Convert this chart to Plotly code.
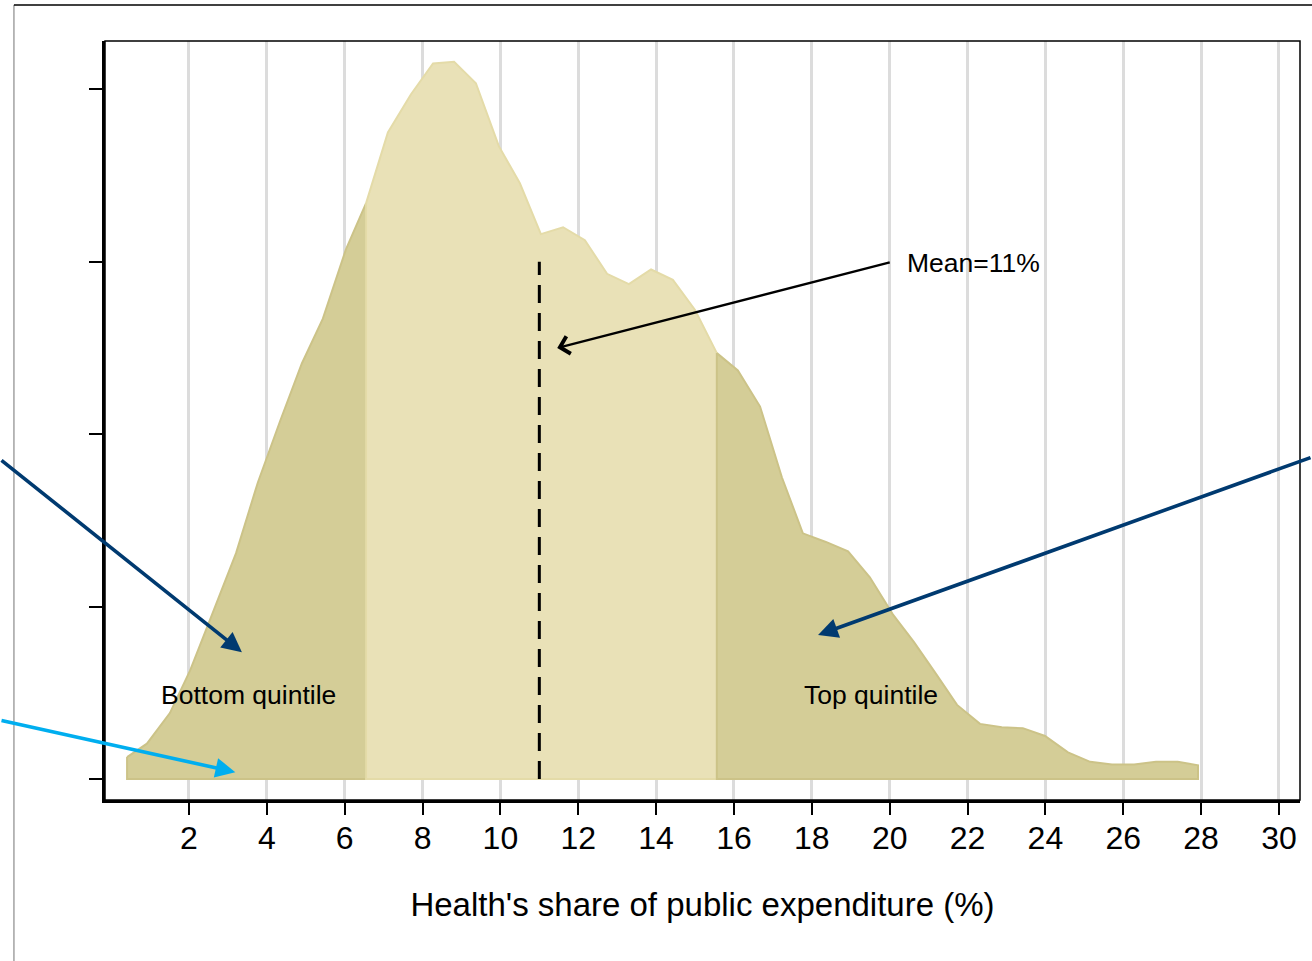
import plotly.graph_objects as go

# Density of health's share of public expenditure (%)
x_vals = [0.41, 0.92, 1.51, 2.03, 2.62, 3.21, 3.77, 4.34, 4.90, 5.44,
          6.03, 6.55, 7.11, 7.70, 8.27, 8.81, 9.37, 9.96, 10.50, 11.04,
          11.61, 12.17, 12.74, 13.30, 13.87, 14.43, 15.00, 15.56, 16.10, 16.67,
          17.23, 17.77, 18.36, 18.93, 19.49, 20.08, 20.62, 21.19, 21.73, 22.32,
          22.88, 23.42, 23.99, 24.58, 25.15, 25.71, 26.28, 26.84, 27.40, 27.92]
density = [0.00255, 0.0041, 0.00765, 0.0126, 0.0194, 0.0262, 0.0344, 0.0415, 0.0482, 0.0534,
           0.0614, 0.0668, 0.0750, 0.0794, 0.0830, 0.0832, 0.0807, 0.0734, 0.0691, 0.0632,
           0.0640, 0.0625, 0.0586, 0.0574, 0.0591, 0.0579, 0.0544, 0.0494, 0.0474, 0.0432,
           0.0350, 0.0285, 0.0275, 0.0264, 0.0234, 0.0191, 0.0159, 0.0122, 0.0086, 0.0064,
           0.0060, 0.0059, 0.0050, 0.0031, 0.0020, 0.0017, 0.0017, 0.0020, 0.0020, 0.0016]
bottom_quintile_cut = 6.55
top_quintile_cut = 15.56
mean_value = 11
mean_line_top = 0.06
x_ticks = list(range(2, 31, 2))
y_ticks = [0, 0.02, 0.04, 0.06, 0.08]

FONT = "Liberation Sans, Arial, sans-serif"
LIGHT_FILL = "#e9e1b7"
LIGHT_LINE = "#e4dba8"
DARK_FILL = "#d4cd97"
DARK_LINE = "#ccc388"


def segment(lo, hi):
    xs = [x for x in x_vals if lo - 1e-9 <= x <= hi + 1e-9]
    ys = [d for x, d in zip(x_vals, density) if lo - 1e-9 <= x <= hi + 1e-9]
    px = xs + [xs[-1], xs[0], xs[0]]
    py = ys + [0, 0, ys[0]]
    return px, py


fig = go.Figure()
for lo, hi, fc, lc in [
    (-1, bottom_quintile_cut, DARK_FILL, DARK_LINE),
    (bottom_quintile_cut, top_quintile_cut, LIGHT_FILL, LIGHT_LINE),
    (top_quintile_cut, 100, DARK_FILL, DARK_LINE),
]:
    px, py = segment(lo, hi)
    fig.add_trace(go.Scatter(x=px, y=py, mode="lines", fill="toself",
                             fillcolor=fc, line=dict(color=lc, width=2),
                             hoverinfo="skip", showlegend=False))

fig.add_trace(go.Scatter(x=[mean_value, mean_value], y=[0, mean_line_top], mode="lines",
                         line=dict(color="black", width=3, dash="18px,10px"),
                         hoverinfo="skip", showlegend=False))

annotations = [
    dict(x=3.36, y=0.01472, ax=-252, ay=-193, color="#003a70", head=2, size=1.1, w=3.6),
    dict(x=18.16, y=0.0167, ax=510, ay=-178, color="#003a70", head=2, size=1.1, w=3.6),
    dict(x=3.19, y=0.0008, ax=-245, ay=-52, color="#00aeef", head=2, size=1.1, w=3.6),
    dict(x=11.46, y=0.05, ax=334, ay=-86, color="black", head=4, size=1.5, w=2.3),
]
ann_list = []
for a in annotations:
    ann_list.append(dict(x=a["x"], y=a["y"], xref="x", yref="y", ax=a["ax"], ay=a["ay"],
                         axref="pixel", ayref="pixel", text="", showarrow=True,
                         arrowhead=a["head"], arrowsize=a["size"], arrowwidth=a["w"],
                         arrowcolor=a["color"], standoff=0, startstandoff=0))

ann_list += [
    dict(x=20.39, y=0.0599, xref="x", yref="y", text="Mean=11%", showarrow=False,
         xanchor="left", yanchor="middle", font=dict(family=FONT, size=26.5, color="black")),
    dict(x=3.52, y=0.0098, xref="x", yref="y", text="Bottom quintile", showarrow=False,
         xanchor="center", yanchor="middle", font=dict(family=FONT, size=26.5, color="black")),
    dict(x=19.52, y=0.0098, xref="x", yref="y", text="Top quintile", showarrow=False,
         xanchor="center", yanchor="middle", font=dict(family=FONT, size=26.5, color="black")),
]

shapes = [
    dict(type="rect", xref="paper", yref="paper", x0=0, x1=1, y0=0, y1=1,
         line=dict(color="black", width=1.5), layer="above"),
    dict(type="line", xref="paper", yref="paper", x0=-0.0762, x1=-0.0762, y0=1.0474, y1=-0.215,
         line=dict(color="#8a8a8a", width=1.2)),
    dict(type="line", xref="paper", yref="paper", x0=-0.0762, x1=1.02, y0=1.0474, y1=1.0474,
         line=dict(color="black", width=1.5)),
]

fig.update_layout(
    width=1312, height=961,
    margin=dict(l=105, r=12, t=41, b=161),
    paper_bgcolor="white", plot_bgcolor="white",
    font=dict(family=FONT, color="black"),
    annotations=ann_list, shapes=shapes,
    xaxis=dict(range=[-0.157, 30.54], tickvals=x_ticks, ticks="outside", ticklen=12,
               tickwidth=2, tickcolor="black", showline=True, linecolor="black", linewidth=2.5,
               showgrid=True, gridcolor="#dcdcdc", gridwidth=2.5, zeroline=False,
               ticklabelstandoff=-4,
               tickfont=dict(family=FONT, size=32, color="black"),
               title=dict(text="Health's share of public expenditure (%)",
                          font=dict(family=FONT, size=33, color="black"), standoff=38)),
    yaxis=dict(range=[-0.00243, 0.0856], tickvals=y_ticks, showticklabels=False,
               ticks="outside", ticklen=13, tickwidth=2, tickcolor="black",
               showline=True, linecolor="black", linewidth=2.5, showgrid=False, zeroline=False),
)

fig.write_html("out.html", config={"displayModeBar": False},
               post_script="document.body.style.margin='0';document.body.style.overflow='hidden';")
